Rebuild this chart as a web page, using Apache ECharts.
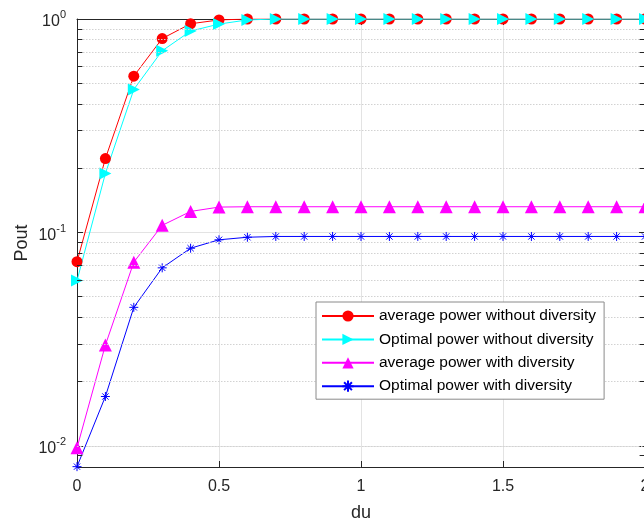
<!DOCTYPE html>
<html>
<head>
<meta charset="utf-8">
<script src="https://cdn.jsdelivr.net/npm/echarts@6/dist/echarts.min.js"></script>
<style>
html,body{margin:0;padding:0;background:#fff;}
#chart{width:644px;height:521px;}
</style>
</head>
<body>
<div id="chart"></div>
<script>
// ---- data ----
var du = [0, 0.1, 0.2, 0.3, 0.4, 0.5, 0.6, 0.7, 0.8, 0.9, 1.0, 1.1, 1.2, 1.3, 1.4, 1.5, 1.6, 1.7, 1.8, 1.9, 2.0];
var avgNoDiv = [0.073, 0.222, 0.54, 0.81, 0.95, 0.99, 1, 1, 1, 1, 1, 1, 1, 1, 1, 1, 1, 1, 1, 1, 1];
var optNoDiv = [0.0595, 0.189, 0.468, 0.71, 0.878, 0.947, 0.99, 1, 1, 1, 1, 1, 1, 1, 1, 1, 1, 1, 1, 1, 1];
var avgDiv = [0.0098, 0.0297, 0.0726, 0.108, 0.1255, 0.1315, 0.132, 0.132, 0.132, 0.132, 0.132, 0.132, 0.132, 0.132, 0.132, 0.132, 0.132, 0.132, 0.132, 0.132, 0.132];
var optDiv = [0.0080, 0.01705, 0.0446, 0.0683, 0.0844, 0.0924, 0.095, 0.0958, 0.0958, 0.0958, 0.0958, 0.0958, 0.0958, 0.0958, 0.0958, 0.0958, 0.0958, 0.0958, 0.0958, 0.0958, 0.0958];
var seriesNames = ['average power without diversity', 'Optimal power without diversity', 'average power with diversity', 'Optimal power with diversity'];
var minorValues = [0.009, 0.02, 0.03, 0.04, 0.05, 0.06, 0.07, 0.08, 0.09, 0.2, 0.3, 0.4, 0.5, 0.6, 0.7, 0.8, 0.9];
var xTicks = [0, 0.5, 1, 1.5, 2];
var yMin = 0.00797, yMax = 1;

function pairs(ys) { return du.map(function (x, i) { return [x, ys[i]]; }); }

var FONT = '"Liberation Sans", Arial, Helvetica, sans-serif';
var AX = '#262626';

var minorGrid = minorValues.map(function (v) { return { yAxis: v }; });
var minorTicks = [];
minorValues.forEach(function (v) {
  minorTicks.push([{ coord: [0, v] }, { coord: [0.019, v] }]);
  minorTicks.push([{ coord: [1.981, v] }, { coord: [2, v] }]);
});

var chart = echarts.init(document.getElementById('chart'), null, { renderer: 'canvas' });
chart.setOption({
  animation: false,
  backgroundColor: '#fff',
  textStyle: { fontFamily: FONT },
  grid: { left: 77, top: 19, width: 568, height: 448, containLabel: false, outerBoundsMode: 'none' },
  legend: {
    data: seriesNames,
    orient: 'vertical',
    left: 316, top: 302,
    z: 10,
    backgroundColor: '#ffffff',
    borderColor: '#8a8a8a', borderWidth: 1,
    padding: [6, 8, 5, 5],
    itemWidth: 52, itemHeight: 14, itemGap: 7.4,
    textStyle: { fontFamily: 'Liberation Sans', fontSize: 15.5, color: '#000' }
  },
  xAxis: [{
    type: 'value', min: 0, max: 2, interval: 0.5,
    name: 'du', nameLocation: 'middle', nameGap: 37, nameMoveOverlap: false,
    nameTextStyle: { fontFamily: FONT, fontSize: 18, color: AX },
    axisLine: { show: true, onZero: false, lineStyle: { color: AX, width: 1 } },
    axisTick: { show: true, inside: true, length: 6, lineStyle: { color: AX } },
    axisLabel: { fontFamily: FONT, fontSize: 16, color: AX, margin: 12,
      formatter: function (v) { return xTicks.indexOf(v) >= 0 ? String(v) : ''; } },
    splitLine: { show: true, lineStyle: { color: '#e3e3e3', width: 1 } }
  }, {
    type: 'value', min: 0, max: 2, interval: 0.5, position: 'top',
    axisLine: { show: true, onZero: false, lineStyle: { color: AX, width: 1 } },
    axisTick: { show: true, inside: true, length: 6, lineStyle: { color: AX } },
    axisLabel: { show: false }, splitLine: { show: false }
  }],
  yAxis: [{
    type: 'log', logBase: 10, min: yMin, max: yMax,
    name: 'Pout', nameLocation: 'middle', nameGap: 46, nameMoveOverlap: false,
    nameTextStyle: { fontFamily: FONT, fontSize: 18, color: AX },
    axisLine: { show: true, onZero: false, lineStyle: { color: AX, width: 1 } },
    axisTick: { show: true, inside: true, length: 6, lineStyle: { color: AX } },
    axisLabel: {
      margin: 11, color: AX,
      formatter: function (v) {
        var l = Math.log10(v), e = Math.round(l);
        if (Math.abs(l - e) > 1e-6) return '';
        return '{b|10}{s|' + e + '}';
      },
      rich: {
        b: { fontFamily: FONT, fontSize: 16, color: AX, padding: [6, 0, 0, 0] },
        s: { fontFamily: FONT, fontSize: 11, color: AX, padding: [0, 0, 8, 0] }
      }
    },
    splitLine: { show: true, lineStyle: { color: '#e3e3e3', width: 1 } }
  }, {
    type: 'log', logBase: 10, min: yMin, max: yMax, position: 'right',
    axisLine: { show: true, onZero: false, lineStyle: { color: AX, width: 1 } },
    axisTick: { show: true, inside: true, length: 6, lineStyle: { color: AX } },
    axisLabel: { show: false }, splitLine: { show: false }
  }],
  series: [
    {
      name: 'minor', type: 'line', data: [], z: 1, silent: true,
      markLine: {
        silent: true, symbol: ['none', 'none'], label: { show: false }, animation: false,
        lineStyle: { color: '#d2d2d2', type: [1.5, 1.5], width: 1 },
        emphasis: { disabled: true },
        data: minorGrid
      }
    },
    {
      name: 'minorTicks', type: 'line', data: [], z: 3, silent: true,
      markLine: {
        silent: true, symbol: ['none', 'none'], label: { show: false }, animation: false,
        lineStyle: { color: AX, type: 'solid', width: 1 },
        emphasis: { disabled: true },
        data: minorTicks
      }
    },
    {
      name: seriesNames[0], type: 'line', data: pairs(avgNoDiv),
      color: '#ff0000', lineStyle: { width: 1, color: '#ff0000' },
      symbol: 'circle', symbolSize: 11, showAllSymbol: true,
      itemStyle: { color: '#ff0000' }
    },
    {
      name: seriesNames[1], type: 'line', data: pairs(optNoDiv),
      color: '#00ffff', lineStyle: { width: 1, color: '#00ffff' },
      symbol: 'triangle', symbolRotate: -90, symbolSize: 12, showAllSymbol: true,
      itemStyle: { color: '#00ffff' }
    },
    {
      name: seriesNames[2], type: 'line', data: pairs(avgDiv),
      color: '#ff00ff', lineStyle: { width: 1, color: '#ff00ff' },
      symbol: 'triangle', symbolSize: 13, showAllSymbol: true,
      itemStyle: { color: '#ff00ff' }
    },
    {
      name: seriesNames[3], type: 'line', data: pairs(optDiv),
      color: '#0000ff', lineStyle: { width: 1, color: '#0000ff' },
      symbol: 'path://M0,5L10,5M5,0L5,10M1.5,1.5L8.5,8.5M1.5,8.5L8.5,1.5', symbolSize: 9, showAllSymbol: true,
      itemStyle: { color: '#0000ff', borderColor: '#0000ff', borderWidth: 1 }
    }
  ]
});
</script>
</body>
</html>
